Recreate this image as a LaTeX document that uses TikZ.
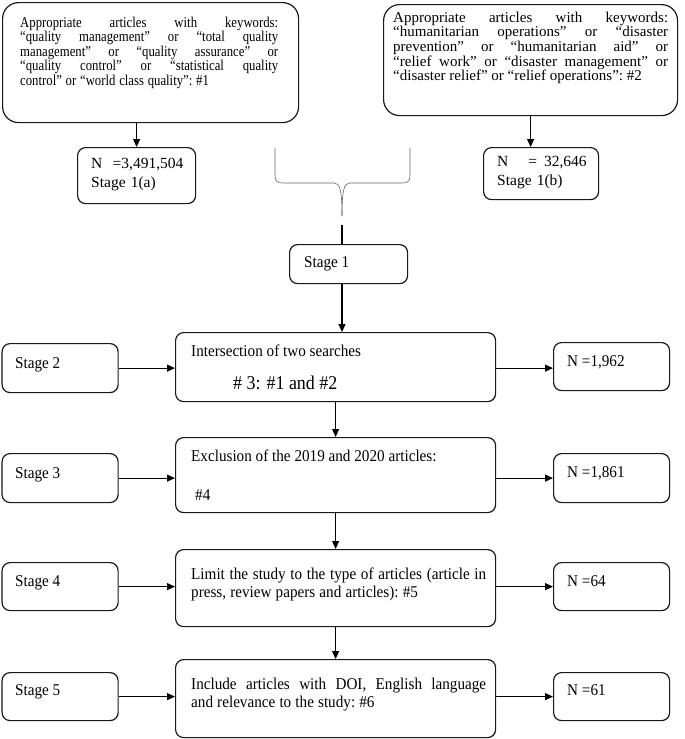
\documentclass[tikz,border=0pt]{standalone}
\usepackage{fontspec}
\setmainfont{Liberation Serif}
\newfontfamily\fA[FakeStretch=0.85]{Liberation Serif}
\newfontfamily\fB[FakeStretch=0.92]{Liberation Serif}
\usetikzlibrary{arrows.meta}
\newcommand{\jline}[2]{\leavevmode\hbox to #1{\spaceskip=0.25em plus 1fil\relax\xspaceskip=\spaceskip #2}}
\newcommand{\nline}[1]{\leavevmode\hbox{\spaceskip=0.25em\relax\xspaceskip=\spaceskip #1}}
\begin{document}
\begin{tikzpicture}[x=1pt,y=-1pt,
  box/.style={draw=black!90, line width=1.2pt, rounded corners=8pt, anchor=north west, inner sep=0pt},
  bigbox/.style={box, rounded corners=16pt},
  txt/.style={inner sep=0pt, anchor=base west},
  mtxt/.style={txt, align=left, text width=300pt},
  lowfont/.style={font=\fB\fontsize{16.5}{18}\selectfont},
  nfont/.style={font=\fontsize{15.5}{19}\selectfont},
  arr/.style={line width=1.1pt, -{Triangle[length=8pt,width=7pt]}},
  plain/.style={line width=1.1pt},
  brace/.style={draw=black!60, line width=0.6pt}
]
\useasboundingbox (0,0) rectangle (685,739);

% top boxes
\node[bigbox, minimum width=296pt, minimum height=120pt] (tl) at (2,2) {};
\node[mtxt, font=\fA\fontsize{15}{14.5}\selectfont] (tlt) at (20,27)
 {\jline{258pt}{Appropriate articles with keywords:}\\
  \jline{258pt}{“quality management” or “total quality}\\
  \jline{258pt}{management” or “quality assurance” or}\\
  \jline{258pt}{“quality control” or “statistical quality}\\
  \nline{control” or “world class quality”: \#1}};

\node[bigbox, minimum width=294pt, minimum height=111pt] (tr) at (383,4) {};
\node[mtxt, font=\fontsize{15}{14.7}\selectfont] (trt) at (393,22)
 {\jline{275pt}{Appropriate articles with keywords:}\\
  \jline{275pt}{“humanitarian operations” or “disaster}\\
  \jline{275pt}{prevention” or “humanitarian aid” or}\\
  \jline{275pt}{“relief work” or “disaster management” or}\\
  \nline{“disaster relief” or “relief operations”: \#2}};

% stage 1 count boxes
\node[box, minimum width=118pt, minimum height=56pt] (n1) at (77,147) {};
\node[mtxt, text width=100pt, nfont] (n1t) at (91,168) {N~~=3,491,504\\Stage 1(a)};
\node[box, minimum width=115pt, minimum height=52pt] (n1b) at (483,147) {};
\node[mtxt, text width=100pt, nfont] (n1bt) at (497,166) {N\hspace{20pt}=\hspace{7pt}32,646\\Stage 1(b)};

\draw[arr] (tl.south -| n1.north) -- (n1.north);
\draw[arr] (tr.south) -- (tr.south |- n1b.north);

% brace
\coordinate (tip) at (342,216);
\draw[brace] (275,148) -- (275,175) .. controls (275,181) and (277,183) .. (283,183) -- (334,183)
  .. controls (340,183) and (342,190) .. (tip);
\draw[brace] (410,148) -- (410,175) .. controls (410,181) and (408,183) .. (402,183) -- (350,183)
  .. controls (344,183) and (342,190) .. (tip);
\coordinate (bt) at (342,225);

% stage 1
\node[box, minimum width=118pt, minimum height=39pt] (s1) at (289,244) {};
\node[txt, lowfont] (s1t) at (304,267) {Stage 1};
\draw[plain] (bt) -- (bt |- s1.north);

% main boxes
\node[box, minimum width=320pt, minimum height=69pt] (m2) at (175,332) {};
\node[box, minimum width=320pt, minimum height=75pt] (m3) at (175,437) {};
\node[box, minimum width=320pt, minimum height=77pt] (m4) at (175,549) {};
\node[box, minimum width=320pt, minimum height=78pt] (m5) at (175,659) {};

\node[txt, lowfont] (m2t) at (191,356) {Intersection of two searches};
\node[txt, font=\fB\fontsize{19.5}{21}\selectfont] (m2u) at (233,389.5) {\# 3: \#1 and \#2};
\node[txt, lowfont] (m3t) at (191,461.5) {Exclusion of the 2019 and 2020 articles:};
\node[txt, lowfont] (m3u) at (195,500.5) {\#4};
\node[mtxt, lowfont] (m4t) at (191,579.5)
 {\jline{295pt}{Limit the study to the type of articles (article in}\\\nline{press, review papers and articles): \#5}};
\node[mtxt, lowfont] (m5t) at (191,689.5)
 {\jline{295pt}{Include articles with DOI, English language}\\\nline{and relevance to the study: \#6}};

% stage boxes
\node[box, minimum width=116pt, minimum height=49pt] (s2) at (1.5,343) {};
\node[box, minimum width=116pt, minimum height=49pt] (s3) at (1.5,453) {};
\node[box, minimum width=116pt, minimum height=48pt] (s4) at (1.5,562) {};
\node[box, minimum width=116pt, minimum height=48pt] (s5) at (1.5,672) {};
\node[txt, lowfont] (s2t) at (15,368.5) {Stage 2};
\node[txt, lowfont] (s3t) at (15,478) {Stage 3};
\node[txt, lowfont] (s4t) at (15,586) {Stage 4};
\node[txt, lowfont] (s5t) at (15,695.5) {Stage 5};

% N boxes
\node[box, minimum width=116pt, minimum height=48pt] (n2) at (553,342) {};
\node[box, minimum width=116pt, minimum height=49pt] (n3) at (553,453) {};
\node[box, minimum width=116pt, minimum height=48pt] (n4) at (553,562) {};
\node[box, minimum width=116pt, minimum height=48pt] (n5) at (553,672) {};
\node[txt, lowfont] (n2t) at (567,366) {N =1,962};
\node[txt, lowfont] (n3t) at (567,477) {N =1,861};
\node[txt, lowfont] (n4t) at (567,586) {N =64};
\node[txt, lowfont] (n5t) at (567,695) {N =61};

% vertical arrows
\draw[arr] (s1.south -| bt) -- (m2.north -| bt);
\draw[arr] (m2.south) -- (m3.north);
\draw[arr] (m3.south) -- (m4.north);
\draw[arr] (m4.south) -- (m5.north);

% horizontal arrows
\foreach \k in {2,3,4,5}{
  \draw[arr] (s\k.east) -- (m\k.west |- s\k.east);
  \draw[arr] (m\k.east |- s\k.east) -- (n\k.west |- s\k.east);
}
\end{tikzpicture}
\end{document}
